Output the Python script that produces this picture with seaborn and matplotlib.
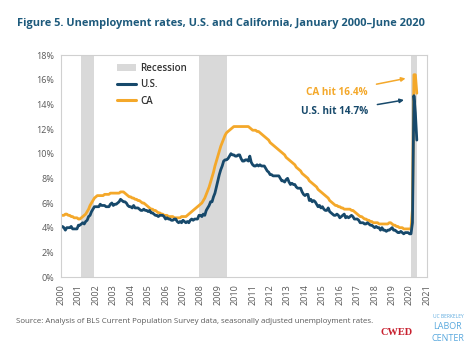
import matplotlib
matplotlib.use("Agg")
import matplotlib.pyplot as plt
import seaborn as sns
import pandas as pd
from matplotlib.patches import Patch
from matplotlib.lines import Line2D

# monthly unemployment rates (%), Jan 2000 - Jun 2020, one row per year
us_rates = [
    [4.0, 4.1, 4.0, 3.8, 4.0, 4.0, 4.0, 4.1, 3.9, 3.9, 3.9, 3.9],
    [4.2, 4.2, 4.3, 4.4, 4.3, 4.5, 4.6, 4.9, 5.0, 5.3, 5.5, 5.7],
    [5.7, 5.7, 5.7, 5.9, 5.8, 5.8, 5.8, 5.7, 5.7, 5.7, 5.9, 6.0],
    [5.8, 5.9, 5.9, 6.0, 6.1, 6.3, 6.2, 6.1, 6.1, 6.0, 5.8, 5.7],
    [5.7, 5.6, 5.8, 5.6, 5.6, 5.6, 5.5, 5.4, 5.4, 5.5, 5.4, 5.4],
    [5.3, 5.4, 5.2, 5.2, 5.1, 5.0, 5.0, 4.9, 5.0, 5.0, 5.0, 4.9],
    [4.7, 4.8, 4.7, 4.7, 4.6, 4.6, 4.7, 4.7, 4.5, 4.4, 4.5, 4.4],
    [4.6, 4.5, 4.4, 4.5, 4.4, 4.6, 4.7, 4.6, 4.7, 4.7, 4.7, 5.0],
    [5.0, 4.9, 5.1, 5.0, 5.4, 5.6, 5.8, 6.1, 6.1, 6.5, 6.8, 7.3],
    [7.8, 8.3, 8.7, 9.0, 9.4, 9.5, 9.5, 9.6, 9.8, 10.0, 9.9, 9.9],
    [9.8, 9.8, 9.9, 9.9, 9.6, 9.4, 9.4, 9.5, 9.5, 9.4, 9.8, 9.3],
    [9.1, 9.0, 9.0, 9.1, 9.0, 9.1, 9.0, 9.0, 9.0, 8.8, 8.6, 8.5],
    [8.3, 8.3, 8.2, 8.2, 8.2, 8.2, 8.2, 8.0, 7.8, 7.8, 7.7, 7.9],
    [8.0, 7.7, 7.5, 7.6, 7.5, 7.5, 7.3, 7.2, 7.2, 7.2, 6.9, 6.7],
    [6.6, 6.7, 6.7, 6.2, 6.3, 6.1, 6.2, 6.1, 5.9, 5.7, 5.8, 5.6],
    [5.7, 5.5, 5.4, 5.4, 5.6, 5.3, 5.2, 5.1, 5.0, 5.0, 5.1, 5.0],
    [4.8, 4.9, 5.0, 5.1, 4.8, 4.9, 4.8, 4.9, 5.0, 4.9, 4.7, 4.7],
    [4.7, 4.6, 4.4, 4.4, 4.4, 4.3, 4.3, 4.4, 4.3, 4.2, 4.2, 4.1],
    [4.0, 4.1, 4.0, 4.0, 3.8, 4.0, 3.8, 3.8, 3.7, 3.8, 3.8, 3.9],
    [4.0, 3.8, 3.8, 3.7, 3.6, 3.6, 3.7, 3.6, 3.5, 3.6, 3.6, 3.6],
    [3.5, 3.5, 4.4, 14.7, 13.3, 11.1],
]
ca_rates = [
    [5.0, 5.0, 5.0, 5.1, 5.1, 5.0, 5.0, 4.9, 4.9, 4.8, 4.8, 4.8],
    [4.7, 4.7, 4.8, 4.9, 5.0, 5.1, 5.3, 5.5, 5.8, 6.0, 6.2, 6.4],
    [6.5, 6.6, 6.6, 6.6, 6.6, 6.6, 6.7, 6.7, 6.7, 6.7, 6.8, 6.8],
    [6.8, 6.8, 6.8, 6.8, 6.8, 6.9, 6.9, 6.9, 6.8, 6.7, 6.6, 6.5],
    [6.5, 6.4, 6.4, 6.3, 6.3, 6.2, 6.2, 6.1, 6.0, 6.0, 5.9, 5.8],
    [5.7, 5.6, 5.5, 5.5, 5.4, 5.4, 5.3, 5.2, 5.2, 5.1, 5.1, 5.0],
    [5.0, 5.0, 4.9, 4.9, 4.9, 4.9, 4.8, 4.8, 4.8, 4.8, 4.8, 4.9],
    [4.9, 4.9, 4.9, 5.0, 5.1, 5.2, 5.3, 5.4, 5.5, 5.6, 5.7, 5.8],
    [5.9, 6.0, 6.2, 6.4, 6.7, 7.0, 7.3, 7.7, 8.1, 8.5, 9.0, 9.4],
    [9.8, 10.2, 10.6, 10.9, 11.2, 11.5, 11.7, 11.8, 11.9, 12.0, 12.1, 12.2],
    [12.2, 12.2, 12.2, 12.2, 12.2, 12.2, 12.2, 12.2, 12.2, 12.2, 12.1, 12.0],
    [11.9, 11.9, 11.9, 11.8, 11.8, 11.7, 11.6, 11.5, 11.4, 11.3, 11.2, 11.1],
    [10.9, 10.8, 10.7, 10.6, 10.5, 10.4, 10.3, 10.2, 10.1, 10.0, 9.9, 9.7],
    [9.6, 9.5, 9.4, 9.3, 9.2, 9.1, 8.9, 8.8, 8.7, 8.6, 8.4, 8.3],
    [8.2, 8.1, 8.0, 7.8, 7.7, 7.6, 7.5, 7.4, 7.3, 7.1, 7.0, 6.9],
    [6.8, 6.7, 6.6, 6.5, 6.4, 6.2, 6.1, 6.0, 5.9, 5.8, 5.8, 5.7],
    [5.7, 5.6, 5.6, 5.5, 5.5, 5.5, 5.5, 5.5, 5.4, 5.4, 5.3, 5.2],
    [5.1, 5.0, 4.9, 4.9, 4.8, 4.7, 4.7, 4.6, 4.6, 4.5, 4.5, 4.4],
    [4.4, 4.4, 4.4, 4.3, 4.3, 4.3, 4.3, 4.3, 4.3, 4.3, 4.4, 4.4],
    [4.3, 4.2, 4.2, 4.1, 4.1, 4.0, 4.0, 4.0, 3.9, 3.9, 3.9, 3.9],
    [3.9, 3.9, 5.5, 16.4, 16.4, 14.9],
]
start_year = 2000
# recessions as (start, end) in decimal years
recessions = [(2001.17, 2001.92), (2007.92, 2009.5), (2020.1, 2020.42)]
year_ticks = list(range(2000, 2022))
pct_ticks = list(range(0, 19, 2))

US_COLOR = "#17496b"
CA_COLOR = "#f4a82a"
GRAY_TXT = "#595959"
TITLE_COLOR = "#1d5a7c"

rows = []
for name, table in [("U.S.", us_rates), ("CA", ca_rates)]:
    for yi, months in enumerate(table):
        for mi, v in enumerate(months):
            rows.append({"year": start_year + yi + mi / 12, "rate": v, "area": name})
df = pd.DataFrame(rows)

sns.set_style("white")
plt.rcParams["font.family"] = ["Open Sans", "DejaVu Sans"]

fig = plt.figure(figsize=(4.74, 3.56), dpi=100)
ax = fig.add_axes([0.1287, 0.2219, 0.9008 - 0.1287, 0.8455 - 0.2219])

for a, b in recessions:
    ax.axvspan(a, b, color="#d9d9d9", lw=0, zorder=0)

sns.lineplot(data=df, x="year", y="rate", hue="area", hue_order=["CA", "U.S."],
             palette={"U.S.": US_COLOR, "CA": CA_COLOR}, linewidth=2.0,
             legend=False, ax=ax)

ax.set_xlim(2000, 2021)
ax.set_ylim(0, 18)
ax.set_xticks(year_ticks)
ax.set_xticklabels([str(y) for y in year_ticks], rotation=90)
ax.set_yticks(pct_ticks)
ax.set_yticklabels([f"{t}%" for t in pct_ticks])
ax.tick_params(axis="both", labelsize=6.5, colors=GRAY_TXT)
ax.tick_params(axis="x", length=3, width=0.6, color="#bfbfbf", pad=2)
ax.tick_params(axis="y", length=0, pad=5)
ax.set_xlabel("")
ax.set_ylabel("")
for s in ax.spines.values():
    s.set_color("#d0d0d0")
    s.set_linewidth(0.8)

handles = [Patch(facecolor="#d9d9d9", edgecolor="none"),
           Line2D([], [], color=US_COLOR, lw=2.2),
           Line2D([], [], color=CA_COLOR, lw=2.2)]
leg = ax.legend(handles, ["Recession", "U.S.", "CA"], loc="upper left",
                bbox_to_anchor=(0.128, 1.003), frameon=False, fontsize=7,
                handlelength=2.0, handletextpad=0.4, labelspacing=0.55)
for t in leg.get_texts():
    t.set_color("#333333")
    t.set_fontweight("semibold")

ax.annotate("CA hit 16.4%", xy=(2019.77, 16.1), xytext=(2017.6, 15.0),
            color=CA_COLOR, fontsize=7.2, fontweight="bold", ha="right", va="center",
            arrowprops=dict(arrowstyle="-|>", color=CA_COLOR, lw=1.1,
                            mutation_scale=6, shrinkA=4, shrinkB=0))
ax.annotate("U.S. hit 14.7%", xy=(2019.68, 14.35), xytext=(2017.65, 13.4),
            color=US_COLOR, fontsize=7.2, fontweight="bold", ha="right", va="center",
            arrowprops=dict(arrowstyle="-|>", color=US_COLOR, lw=1.1,
                            mutation_scale=6, shrinkA=4, shrinkB=0))

fig.text(0.036, 0.933, "Figure 5. Unemployment rates, U.S. and California, January 2000\u2013June 2020",
         fontsize=7.9, fontweight="bold", color=TITLE_COLOR, va="center")
fig.text(0.034, 0.098, "Source: Analysis of BLS Current Population Survey data, seasonally adjusted unemployment rates.",
         fontsize=5.7, color=GRAY_TXT, va="center")

# logo stand-ins
fig.text(0.836, 0.067, "CWED", fontsize=7.5, fontweight="bold", color="#c8202f",
         family="Liberation Serif", ha="center", va="center")
fig.text(0.945, 0.110, "UC BERKELEY", fontsize=3.5, color="#5aa9de", ha="center", va="center")
fig.text(0.945, 0.084, "LABOR", fontsize=6.5, color="#5aa9de", ha="center", va="center")
fig.text(0.945, 0.050, "CENTER", fontsize=6.5, color="#5aa9de", ha="center", va="center")

fig.savefig("out.png", dpi=100)
